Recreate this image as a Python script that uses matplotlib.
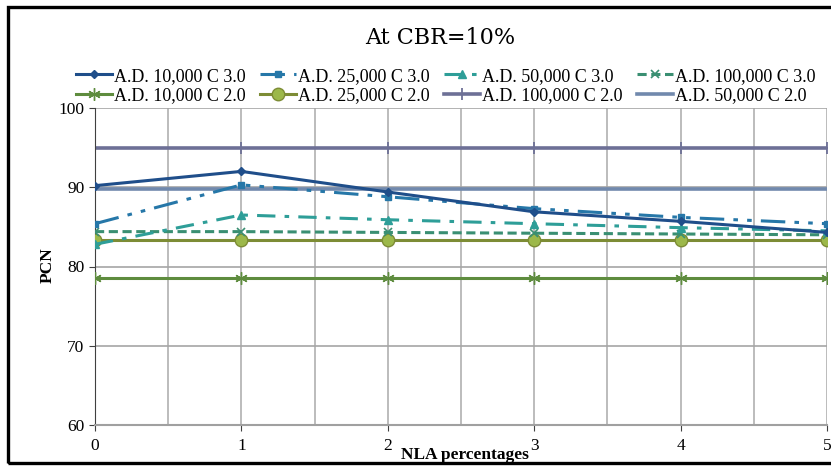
import matplotlib
matplotlib.use("Agg")
import matplotlib.pyplot as plt
from matplotlib.patches import Rectangle
import numpy as np

plt.rcParams['font.family'] = ['Liberation Serif', 'DejaVu Serif']

nla = [0, 1, 2, 3, 4, 5]
x_tick_labels = ["0", "1", "2", "3", "4", "5"]
y_ticks = [60, 70, 80, 90, 100]

ad10k_c3 = [90.2, 92.0, 89.4, 86.9, 85.7, 84.3]
ad25k_c3 = [85.4, 90.3, 88.8, 87.3, 86.2, 85.4]
ad50k_c3 = [82.8, 86.5, 85.9, 85.4, 84.9, 84.5]
ad100k_c3 = [84.4, 84.4, 84.3, 84.2, 84.1, 84.0]
ad10k_c2 = [78.5, 78.5, 78.5, 78.5, 78.5, 78.5]
ad25k_c2 = [83.4, 83.4, 83.4, 83.4, 83.4, 83.4]
ad100k_c2 = [94.9, 94.9, 94.9, 94.9, 94.9, 94.9]
ad50k_c2 = [89.8, 89.8, 89.8, 89.8, 89.8, 89.8]

labels = ["A.D. 10,000 C 3.0", "A.D. 25,000 C 3.0", "A.D. 50,000 C 3.0",
          "A.D. 100,000 C 3.0", "A.D. 10,000 C 2.0", "A.D. 25,000 C 2.0",
          "A.D. 100,000 C 2.0", "A.D. 50,000 C 2.0"]

fig = plt.figure(figsize=(8.31, 4.66), dpi=100)
ax = fig.add_axes([95/831, 1-425/466, (827-95)/831, (425-108)/466])

x = np.array(nla)
h = [None]*8
h[7], = ax.plot(x, ad50k_c2, color="#7189ad", lw=2.6, zorder=2)
h[6], = ax.plot(x, ad100k_c2, color="#6d7096", lw=2.6, marker='+', ms=8, mew=1.3, zorder=2)
h[4], = ax.plot(x, ad10k_c2, color="#5e8c3e", lw=2.2, marker=(6, 2, 0), ms=9, mew=1.0, zorder=3)
h[5], = ax.plot(x, ad25k_c2, color="#7d8c35", lw=2.2, marker='o', ms=9, mfc="#9cb84a", mec="#7d8c35", zorder=3)
h[3], = ax.plot(x, ad100k_c3, color="#3a8f72", lw=2.2, ls=(0, (3, 1.5)), marker='x', ms=6, mew=1.2, zorder=4)
h[2], = ax.plot(x, ad50k_c3, color="#2e9e98", lw=2.2, ls=(0, (6, 3, 1.5, 3)), marker='^', ms=5.5, zorder=4)
h[1], = ax.plot(x, ad25k_c3, color="#2677a8", lw=2.2, ls=(0, (8, 3, 1.5, 3, 1.5, 3)), marker='s', ms=5, zorder=5)
h[0], = ax.plot(x, ad10k_c3, color="#1f4e8a", lw=2.2, marker='D', ms=4, zorder=6)

ax.set_xlim(0, 5)
ax.set_ylim(60, 100)
ax.set_yticks(y_ticks)
ax.set_xticks(x)
ax.set_xticklabels(x_tick_labels)
ax.set_xticks(np.arange(0, 5.01, 0.5), minor=True)
ax.grid(True, which='major', axis='y', color='#a6a6a6', lw=1.2)
ax.grid(True, which='both', axis='x', color='#b0b0b0', lw=1.2)
ax.tick_params(axis='both', which='major', labelsize=12.5, length=4, colors='#404040', labelcolor='black')
ax.tick_params(axis='x', which='major', pad=5)
ax.tick_params(axis='x', which='minor', length=0)
for s in ['top', 'right']:
    ax.spines[s].set_visible(False)
ax.spines['left'].set_color('#404040')
ax.spines['bottom'].set_color('#a0a0a0')
ax.spines['bottom'].set_linewidth(1.5)

fig.text(48/831, 1-265/466, "PCN", rotation=90, fontsize=12.5, fontweight='bold', ha='center', va='center')
fig.text(465/831, 1-455/466, "NLA percentages", fontsize=12.5, fontweight='bold', ha='center', va='center')
fig.text(440/831, 1-38/466, "At CBR=10%", fontsize=16, ha='center', va='center', family=['DejaVu Serif'])

order = [0, 4, 1, 5, 2, 6, 3, 7]
fig.legend([h[i] for i in order], [labels[i] for i in order], ncol=4,
           loc='center', bbox_to_anchor=(446/831, 1-86/466), frameon=False,
           fontsize=13, handlelength=2.0, handletextpad=0.1, columnspacing=0.8,
           labelspacing=0.15, borderpad=0)

fig.patches.append(Rectangle((8/831, 3/466), 1.0, (463-7)/466 + 0.0, transform=fig.transFigure,
                             fill=False, edgecolor='black', lw=2.4))
fig.savefig("out.png", dpi=100)
